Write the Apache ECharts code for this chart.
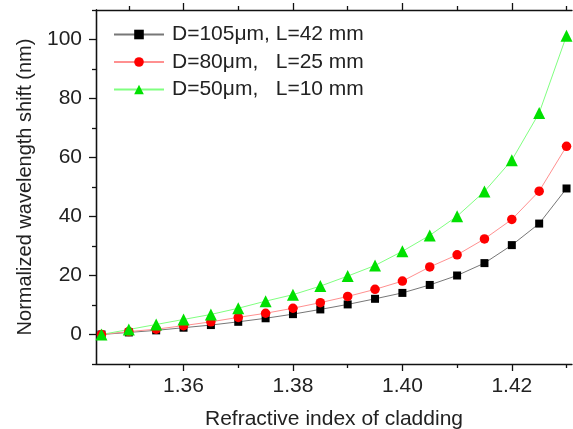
<!DOCTYPE html>
<html><head><meta charset="utf-8">
<script src="https://cdn.jsdelivr.net/npm/echarts@6/dist/echarts.min.js"></script>
<style>html,body{margin:0;padding:0;background:#fff}#c{width:573px;height:429px}</style>
</head><body><div id="c"></div>
<script>
const xValues = [1.345,1.35,1.355,1.36,1.365,1.37,1.375,1.38,1.385,1.39,1.395,1.40,1.405,1.41,1.415,1.42,1.425,1.43];
const d105 = [0,0.7,1.4,2.3,3.2,4.3,5.5,6.9,8.5,10.2,12.1,14.1,16.8,20.0,24.2,30.3,37.6,49.5];
const d80  = [0,1.0,1.8,3.0,4.3,5.8,7.2,8.9,10.8,12.9,15.3,18.1,22.9,27.0,32.4,39.0,48.6,63.8];
const d50  = [0,1.7,3.4,5.1,6.8,8.9,11.3,13.5,16.4,19.8,23.4,28.2,33.6,40.1,48.5,59.1,75.1,101.3];
const seriesNames = ['D=105\u03bcm, L=42 mm','D=80\u03bcm,\u00a0\u00a0\u00a0L=25 mm','D=50\u03bcm,\u00a0\u00a0\u00a0L=10 mm'];
const xMajor = [1.36,1.38,1.40,1.42];
const xMinor = [1.35,1.37,1.39,1.41,1.43];
const yMajor = [0,20,40,60,80,100];
const yMinor = [-10,10,30,50,70,90,110];
const xLabels = ['1.36','1.38','1.40','1.42'];

const font = 'Liberation Sans, Arial, sans-serif';
const X0 = 1.344, X1 = 1.431, Y0 = -10, Y1 = 110;
const pair = (ys) => xValues.map((x,i)=>[x,ys[i]]);

function xAx(pos, vals, len, showLine, labels){
  return {type:'value', position:pos, min:X0, max:X1, splitLine:{show:false},
    axisLine:{show:showLine, onZero:false, lineStyle:{color:'#111',width:1.3}},
    axisTick:{show:true, inside:false, length:len, customValues:vals, lineStyle:{color:'#111',width:1.3}},
    axisLabel:labels ? {show:true, customValues:vals, margin:12, fontSize:21, color:'#222', fontFamily:font,
      formatter:(v)=>xLabels[xMajor.findIndex(m=>Math.abs(m-v)<1e-6)]} : {show:false},
    name: labels ? 'Refractive index of cladding' : '', nameLocation:'middle', nameGap:45,
    nameTextStyle:{fontSize:21, color:'#222', fontFamily:font}};
}
function yAx(vals, len, labels){
  return {type:'value', position:'left', min:Y0, max:Y1, splitLine:{show:false},
    axisLine:{show:true, onZero:false, lineStyle:{color:'#111',width:1.3}},
    axisTick:{show:true, inside:false, length:len, customValues:vals, lineStyle:{color:'#111',width:1.3}},
    axisLabel:labels ? {show:true, customValues:vals, margin:14, fontSize:21, color:'#222', fontFamily:font} : {show:false},
    name: labels ? 'Normalized wavelength shift (nm)' : '', nameLocation:'middle', nameGap:61,
    nameTextStyle:{fontSize:20, color:'#222', fontFamily:font}};
}

const chart = echarts.init(document.getElementById('c'), null, {renderer:'canvas'});
chart.setOption({
  backgroundColor:'#fff',
  animation:false,
  grid:{left:96, right:1, top:10, bottom:65, containLabel:false, outerBoundsMode:'none'},
  xAxis:[xAx('bottom',xMajor,7,true,true), xAx('bottom',xMinor,4,false,false),
         xAx('top',xMajor,7,true,false), xAx('top',xMinor,4,false,false)],
  yAxis:[yAx(yMajor,7,true), yAx(yMinor,4,false)],
  legend:{orient:'vertical', left:113, top:24, padding:0, itemWidth:50, itemHeight:12, itemGap:6.5,
    textStyle:{fontSize:21, color:'#222', fontFamily:font, padding:[0,0,0,3], lineHeight:21},
    data:seriesNames},
  series:[
    {name:seriesNames[0], type:'line', data:pair(d105), symbol:'rect', symbolSize:8,
     itemStyle:{color:'#000'}, lineStyle:{color:'#777',width:1}},
    {name:seriesNames[1], type:'line', data:pair(d80), symbol:'circle', symbolSize:9.5,
     itemStyle:{color:'#ff0000'}, lineStyle:{color:'#ff9090',width:1}},
    {name:seriesNames[2], type:'line', data:pair(d50), symbol:'triangle', symbolSize:12,
     itemStyle:{color:'#00e000'}, lineStyle:{color:'#80ff80',width:1}}
  ]
});
</script></body></html>
